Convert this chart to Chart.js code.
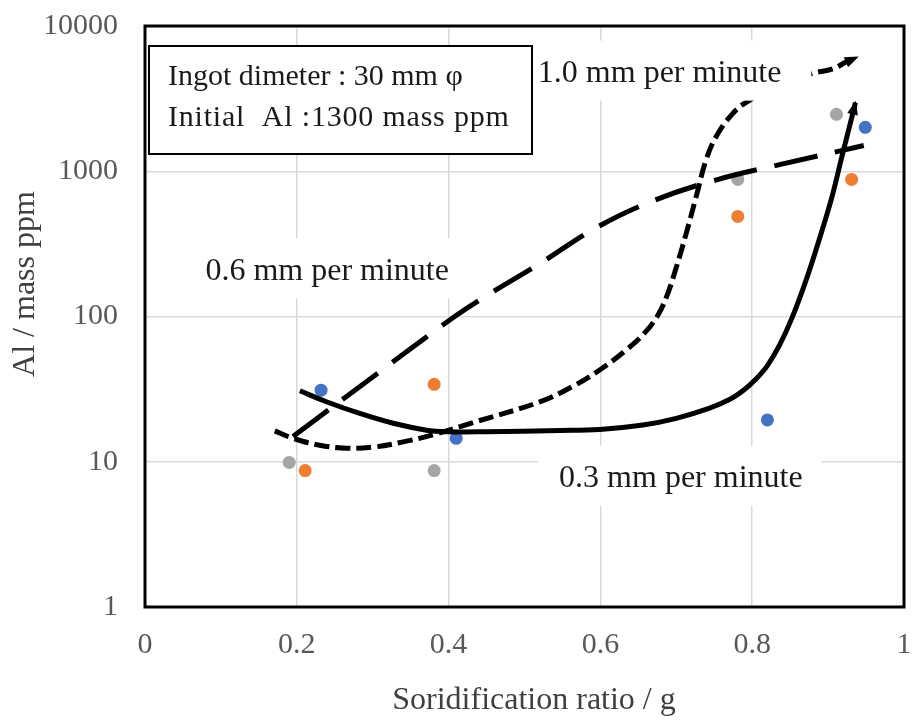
<!DOCTYPE html>
<html>
<head>
<meta charset="utf-8">
<script src="https://cdn.jsdelivr.net/npm/chart.js@4"></script>
<style>
  html, body { margin: 0; padding: 0; background: #fff; }
  #wrap { width: 915px; height: 722px; }
</style>
</head>
<body>
<div id="wrap"><canvas id="alChart"></canvas></div>
<script>
// tick values
const ticksX = [0, 0.2, 0.4, 0.6, 0.8, 1];
const ticksY = [1, 10, 100, 1000, 10000];

// measured points (solidification ratio, Al mass ppm)
const blueX = [0.232, 0.410, 0.820, 0.949];
const blueY = [31.1, 14.5, 19.4, 2005];
const orangeX = [0.211, 0.381, 0.781, 0.931];
const orangeY = [8.7, 34.1, 489, 879];
const grayX = [0.190, 0.381, 0.781, 0.911];
const grayY = [9.9, 8.7, 879, 2466];

// hand drawn trend curves
const rate03X = [0.204, 0.239, 0.283, 0.327, 0.371, 0.397, 0.45, 0.546, 0.599, 0.656, 0.700, 0.743, 0.770, 0.789, 0.805, 0.820, 0.836, 0.853, 0.871, 0.888, 0.905, 0.918, 0.928, 0.936];
const rate03Y = [30.8, 25.9, 21.5, 18.4, 16.5, 16.1, 16.1, 16.4, 16.7, 17.9, 19.9, 23.3, 26.8, 31.2, 37.1, 45.9, 63.5, 99.4, 178, 335, 664, 1250, 2010, 2970];
const rate06X = [0.195, 0.309, 0.408, 0.447, 0.520, 0.596, 0.671, 0.752, 0.836, 0.947];
const rate06Y = [14.9, 41.6, 100, 136, 231, 413, 630, 870, 1110, 1503];
const rate10X = [0.171, 0.195, 0.230, 0.265, 0.300, 0.340, 0.379, 0.432, 0.520, 0.562, 0.599, 0.632, 0.658, 0.675, 0.687, 0.700, 0.713, 0.726, 0.739, 0.752, 0.774, 0.796, 0.836, 0.877, 0.906, 0.923, 0.938];
const rate10Y = [16.3, 14.5, 13.0, 12.4, 12.6, 13.7, 15.3, 18.6, 25.8, 32.7, 42.8, 57.7, 76.8, 100.5, 136, 218, 372, 664, 1186, 1715, 2485, 3070, 3840, 4680, 5060, 5620, 6080];

// curve labels: text, x value, y value
const curveLabels = [
  ['0.6 mm per minute', 0.24, 208],
  ['0.3 mm per minute', 0.706, 7.74],
  ['1.0 mm per minute', 0.678, 4776]
];
// white box margins left/right of each label
const labelPads = [[12, 12], [21, 19], [11, 30]];
const noteLines = ['Ingot dimeter : 30 mm \u03c6', 'Initial  Al :1300 mass ppm'];

const serif = "'Liberation Serif', 'DejaVu Serif', serif";

function pts(xs, ys) {
  return xs.map((x, i) => ({ x: x, y: ys[i] }));
}

function arrowHead(ctx, meta, size) {
  const d = meta.data;
  const a = d[d.length - 2], b = d[d.length - 1];
  const ang = Math.atan2(b.y - a.y, b.x - a.x);
  ctx.save();
  ctx.translate(b.x, b.y);
  ctx.rotate(ang);
  ctx.beginPath();
  ctx.moveTo(2, 0);
  ctx.lineTo(-size, -size * 0.45);
  ctx.lineTo(-size, size * 0.45);
  ctx.closePath();
  ctx.fillStyle = '#000';
  ctx.fill();
  ctx.restore();
}

const decorations = {
  id: 'decorations',
  afterDatasetsDraw(chart) {
    const ctx = chart.ctx;
    const area = chart.chartArea;
    const sx = chart.scales.x, sy = chart.scales.y;

    arrowHead(ctx, chart.getDatasetMeta(0), 12);
    arrowHead(ctx, chart.getDatasetMeta(2), 12);

    // curve labels on white boxes
    ctx.save();
    ctx.font = '32px ' + serif;
    ctx.textAlign = 'center';
    ctx.textBaseline = 'middle';
    curveLabels.forEach((l, i) => {
      const cx = sx.getPixelForValue(l[1]);
      const cy = sy.getPixelForValue(l[2]);
      const tw = ctx.measureText(l[0]).width;
      const p = labelPads[i];
      ctx.fillStyle = '#fff';
      ctx.fillRect(cx - tw / 2 - p[0], cy - 32, tw + p[0] + p[1], 60);
      ctx.fillStyle = '#1a1a1a';
      ctx.fillText(l[0], cx, cy + 1);
    });
    ctx.restore();

    // note box
    ctx.save();
    ctx.fillStyle = '#fff';
    ctx.fillRect(area.left + 4, area.top + 20, 383, 108);
    ctx.strokeStyle = '#000';
    ctx.lineWidth = 2;
    ctx.strokeRect(area.left + 4, area.top + 20, 383, 108);
    ctx.font = '30px ' + serif;
    ctx.fillStyle = '#1a1a1a';
    ctx.textBaseline = 'middle';
    ctx.fillText(noteLines[0], area.left + 23, area.top + 51);
    ctx.letterSpacing = '0.8px';
    ctx.fillText(noteLines[1], area.left + 23, area.top + 92);
    ctx.restore();

    // plot frame
    ctx.save();
    ctx.strokeStyle = '#000';
    ctx.lineWidth = 3;
    ctx.strokeRect(area.left, area.top, area.right - area.left, area.bottom - area.top);
    ctx.restore();

    // axis titles
    ctx.save();
    ctx.fillStyle = '#404040';
    ctx.font = '32px ' + serif;
    ctx.textAlign = 'center';
    ctx.textBaseline = 'alphabetic';
    ctx.fillText('Soridification ratio / g', 534, 709);
    ctx.translate(34, 284);
    ctx.rotate(-Math.PI / 2);
    ctx.fillText('Al / mass ppm', 0, 0);
    ctx.restore();
  }
};

const ctx = document.getElementById('alChart').getContext('2d');

const alChart = new Chart(ctx, {
  type: 'scatter',
  data: {
    datasets: [
      {
        label: '0.3 mm per minute',
        data: pts(rate03X, rate03Y),
        showLine: true,
        borderColor: '#000',
        borderWidth: 5,
        pointRadius: 0,
        tension: 0.4,
        order: 0
      },
      {
        label: '0.6 mm per minute',
        data: pts(rate06X, rate06Y),
        showLine: true,
        borderColor: '#000',
        borderWidth: 5,
        borderDash: [44, 18],
        pointRadius: 0,
        tension: 0.4,
        order: 0
      },
      {
        label: '1.0 mm per minute',
        data: pts(rate10X, rate10Y),
        showLine: true,
        borderColor: '#000',
        borderWidth: 5,
        borderDash: [15, 6],
        pointRadius: 0,
        tension: 0.4,
        order: 0
      },
      {
        label: 'blue',
        data: pts(blueX, blueY),
        backgroundColor: '#4472C4',
        borderWidth: 0,
        pointRadius: 6.5,
        order: 1
      },
      {
        label: 'orange',
        data: pts(orangeX, orangeY),
        backgroundColor: '#ED7D31',
        borderWidth: 0,
        pointRadius: 6.5,
        order: 1
      },
      {
        label: 'gray',
        data: pts(grayX, grayY),
        backgroundColor: '#A5A5A5',
        borderWidth: 0,
        pointRadius: 6.5,
        order: 1
      }
    ]
  },
  options: {
    responsive: true,
    maintainAspectRatio: false,
    animation: false,
    layout: { padding: { top: 26, right: 11, left: 0, bottom: 0 } },
    plugins: {
      legend: { display: false },
      tooltip: { enabled: false }
    },
    scales: {
      x: {
        type: 'linear',
        min: 0,
        max: 1,
        afterBuildTicks(s) { s.ticks = ticksX.map(v => ({ value: v })); },
        afterFit(s) { s.height = 115; s.paddingLeft = 0; s.paddingRight = 0; },
        ticks: {
          color: '#595959',
          font: { family: serif, size: 30 },
          padding: 20,
          maxRotation: 0,
          callback: v => String(v)
        },
        grid: { color: '#d9d9d9', lineWidth: 1.5, drawTicks: false },
        border: { display: false }
      },
      y: {
        type: 'logarithmic',
        min: 1,
        max: 10000,
        afterBuildTicks(s) { s.ticks = ticksY.map(v => ({ value: v })); },
        afterFit(s) { s.width = 145; s.paddingTop = 0; s.paddingBottom = 0; },
        ticks: {
          color: '#595959',
          font: { family: serif, size: 30 },
          padding: 27,
          callback: v => String(v)
        },
        grid: { color: '#d9d9d9', lineWidth: 1.5, drawTicks: false },
        border: { display: false }
      }
    }
  },
  plugins: [decorations]
});
</script>
</body>
</html>
